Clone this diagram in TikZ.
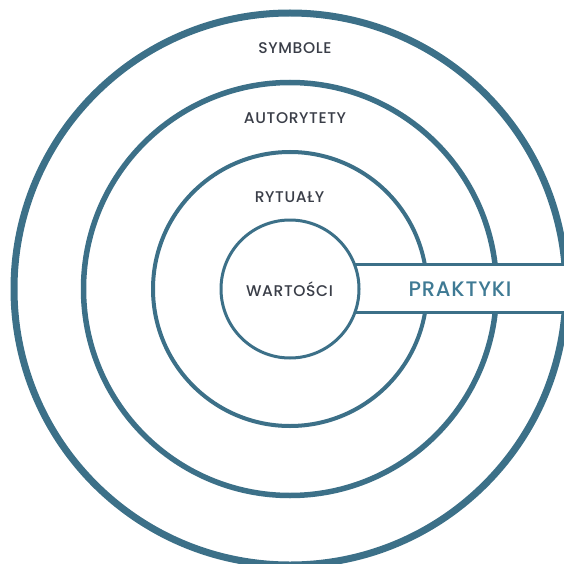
\documentclass[tikz,border=0pt]{standalone}
\usepackage{fontspec}
\setmainfont{Poppins}[UprightFont={* Medium}]
\usetikzlibrary{positioning, calc, backgrounds}

\definecolor{ringteal}{RGB}{60,112,136}
\definecolor{labelgray}{RGB}{58,62,72}
\definecolor{bandteal}{RGB}{63,122,148}

\begin{document}
\begin{tikzpicture}[
    x=1pt, y=-1pt,
    every node/.style={inner sep=0pt},
    ring/.style={draw=ringteal, circle, fill=white},
    lbl/.style={text=labelgray, font=\addfontfeatures{LetterSpace=4}\fontsize{15.5}{15.5}\selectfont, anchor=center},
    band/.style={fill=white, minimum height=47pt, minimum width=290pt},
    bandline/.style={draw=ringteal, line width=3pt},
    bandlbl/.style={text=bandteal, font=\addfontfeatures{LetterSpace=4}\fontsize{21}{21}\selectfont, anchor=center}
]
\useasboundingbox (0,0) rectangle (563,564);

% ================= Rings (outer to inner) =================
\node[ring, line width=7pt, minimum size=552pt] (symbole) at (290,289) {};
\node[ring, line width=5.5pt, minimum size=413pt] (autorytety) at (290,289) {};
\node[ring, line width=4pt, minimum size=274pt] (rytualy) at (290,289) {};

% ================= Band (praktyki) =================
\node[band] (band) at (435,288.5) {};
\draw[bandline] (band.north west) -- (band.north east);
\draw[bandline] (band.south west) -- (band.south east);

% Inner ring on top of the band
\node[ring, line width=3pt, minimum size=138pt] (wartosci) at (290,289) {};

% ================= Labels =================
\node[lbl] (symboleLbl) at (295,48.5) {SYMBOLE};
\node[lbl] (autorytetyLbl) at (295,118.5) {AUTORYTETY};
\node[lbl] (rytualyLbl) at (289.5,197) {RYTUAŁY};
\node[lbl] (wartosciLbl) at (289.5,289.5) {WARTOŚCI};
\node[bandlbl] (praktyki) at (460,289) {PRAKTYKI};

\end{tikzpicture}
\end{document}
